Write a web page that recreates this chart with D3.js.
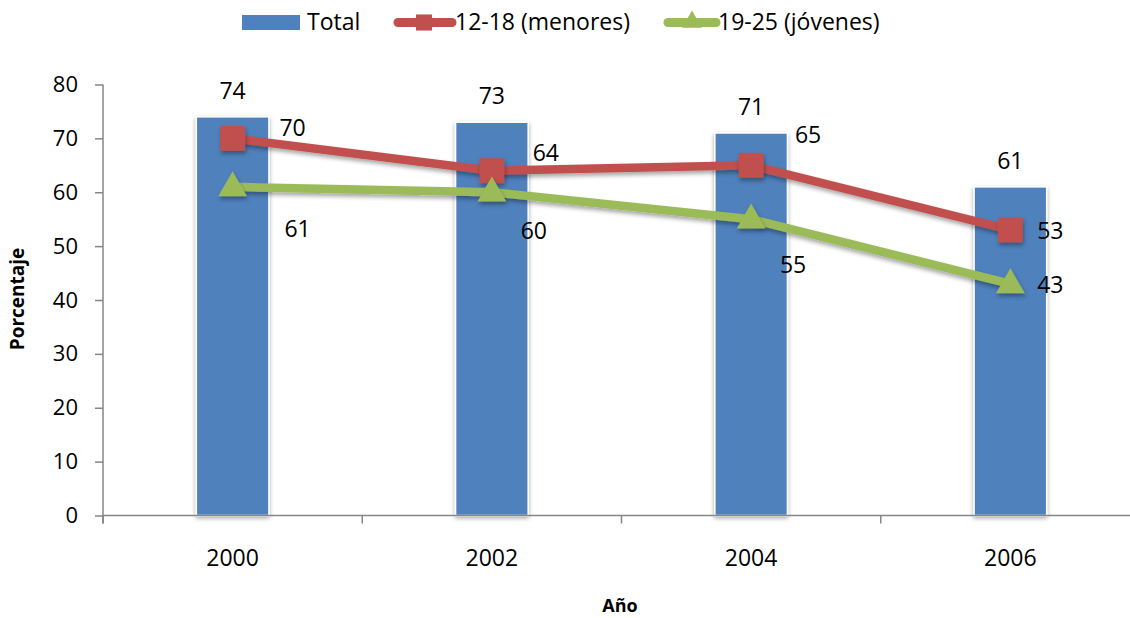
<!DOCTYPE html>
<html>
<head>
<meta charset="utf-8">
<script src="https://cdn.jsdelivr.net/npm/d3@7/dist/d3.min.js"></script>
<style>
  html, body { margin: 0; padding: 0; background: #fff; }
  svg { display: block; font-family: "Open Sans", sans-serif; }
</style>
</head>
<body>
<svg id="chart" width="1130" height="618"></svg>
<script>
// Data
const years = ["2000", "2002", "2004", "2006"];
const total = [74, 73, 71, 61];
const menores = [70, 64, 65, 53];
const jovenes = [61, 60, 55, 43];
const yTicks = [0, 10, 20, 30, 40, 50, 60, 70, 80];
const seriesNames = ["Total", "12-18 (menores)", "19-25 (jóvenes)"];

// Label placement relative to each marker (dx, dy)
const menoresLabelOffsets = [[60, -11], [54, -18], [57, -31], [40, 1]];
const jovenesLabelOffsets = [[65, 42], [42, 38], [42, 45], [40, 1]];

const colors = { bar: "#4F81BD", red: "#C0504D", green: "#9BBB59", axis: "#868686" };

const svg = d3.select("#chart");

const defs = svg.append("defs");
const sh = defs.append("filter").attr("id", "shadow")
  .attr("x", "-30%").attr("y", "-30%").attr("width", "160%").attr("height", "160%");
sh.append("feDropShadow").attr("dx", 0).attr("dy", 2).attr("stdDeviation", 2)
  .attr("flood-color", "#000").attr("flood-opacity", 0.35);
const msh = defs.append("filter").attr("id", "mshadow")
  .attr("x", "-50%").attr("y", "-50%").attr("width", "200%").attr("height", "200%");
msh.append("feDropShadow").attr("dx", 1).attr("dy", 3).attr("stdDeviation", 2)
  .attr("flood-color", "#000").attr("flood-opacity", 0.35);

const left = 103, right = 1140, y0 = 515.5, yTop = 84.5;

const x = d3.scaleBand().domain(years).range([left, right])
  .paddingInner(0.72).paddingOuter(0.36);
const y = d3.scaleLinear().domain([0, 80]).range([y0, yTop]);
const cx = d => x(d) + x.bandwidth() / 2;

// Y axis
const yAxis = d3.axisLeft(y).tickValues(yTicks).tickSizeInner(8).tickSizeOuter(0).tickPadding(17);
const gy = svg.append("g").attr("transform", `translate(${left},0)`).call(yAxis);
gy.select(".domain").remove();
gy.selectAll(".tick line").attr("stroke", colors.axis).attr("stroke-width", 1.5);
gy.selectAll(".tick text").attr("fill", "#000").style("font-size", "22px")
  .style("font-family", "'Open Sans', sans-serif");
svg.append("line").attr("x1", left).attr("x2", left).attr("y1", yTop).attr("y2", y0 + 8)
  .attr("stroke", colors.axis).attr("stroke-width", 1.5);

// Bars
svg.append("g").selectAll("rect").data(years).join("rect")
  .attr("x", d => x(d))
  .attr("y", (d, i) => y(total[i]))
  .attr("width", x.bandwidth())
  .attr("height", (d, i) => y0 - y(total[i]))
  .attr("fill", colors.bar)
  .attr("stroke", "#fff").attr("stroke-width", 1.5)
  .attr("filter", "url(#shadow)");

// X axis line and category boundary ticks
svg.append("line").attr("x1", left).attr("x2", right).attr("y1", y0).attr("y2", y0)
  .attr("stroke", colors.axis).attr("stroke-width", 1.5);
const boundaries = d3.range(years.length + 1).map(i => left + i * x.step());
svg.append("g").selectAll("line").data(boundaries).join("line")
  .attr("x1", d => d).attr("x2", d => d).attr("y1", y0).attr("y2", y0 + 8)
  .attr("stroke", colors.axis).attr("stroke-width", 1.5);
svg.append("g").selectAll("text").data(years).join("text")
  .attr("x", d => cx(d)).attr("y", 566)
  .attr("text-anchor", "middle").style("font-size", "23px")
  .text(d => d);

// Bar value labels
svg.append("g").selectAll("text").data(years).join("text")
  .attr("x", d => cx(d)).attr("y", (d, i) => y(total[i]) - 18)
  .attr("text-anchor", "middle").style("font-size", "23px")
  .text((d, i) => total[i]);

// Lines, markers and their value labels
const line = d3.line().x(d => cx(d[0])).y(d => y(d[1]));
function drawSeries(values, color, kind, offsets) {
  const pts = years.map((yr, i) => [yr, values[i]]);
  svg.append("path").datum(pts).attr("d", line)
    .attr("fill", "none").attr("stroke", color).attr("stroke-width", 8.5)
    .attr("stroke-linejoin", "round").attr("stroke-linecap", "round")
    .attr("filter", "url(#mshadow)");
  const sym = d3.symbol().type(kind === "square" ? d3.symbolSquare : d3.symbolTriangle)
    .size(kind === "square" ? 620 : 360);
  svg.append("g").selectAll("path").data(pts).join("path")
    .attr("d", sym)
    .attr("transform", d => `translate(${cx(d[0])},${y(d[1]) + (kind === "square" ? 0 : 1)})`)
    .attr("fill", color).attr("filter", "url(#mshadow)");
  svg.append("g").selectAll("text").data(pts).join("text")
    .attr("x", (d, i) => cx(d[0]) + offsets[i][0])
    .attr("y", (d, i) => y(d[1]) + offsets[i][1] + 8.5)
    .attr("text-anchor", "middle").style("font-size", "23px")
    .text(d => d[1]);
}
drawSeries(menores, colors.red, "square", menoresLabelOffsets);
drawSeries(jovenes, colors.green, "triangle", jovenesLabelOffsets);

// Axis titles
svg.append("text").attr("transform", "translate(24,299) rotate(-90)")
  .attr("text-anchor", "middle").style("font-size", "19px").style("font-weight", "bold")
  .text("Porcentaje");
svg.append("text").attr("x", 620).attr("y", 612)
  .attr("text-anchor", "middle").style("font-size", "18px").style("font-weight", "bold")
  .text("Año");

// Legend
const lg = svg.append("g").style("font-size", "23px");
lg.append("rect").attr("x", 242).attr("y", 15).attr("width", 58).attr("height", 15)
  .attr("fill", colors.bar);
lg.append("text").attr("x", 307).attr("y", 30).text(seriesNames[0]);
lg.append("line").attr("x1", 398).attr("x2", 452).attr("y1", 22.5).attr("y2", 22.5)
  .attr("stroke", colors.red).attr("stroke-width", 9).attr("stroke-linecap", "round");
lg.append("path").attr("d", d3.symbol().type(d3.symbolSquare).size(260))
  .attr("transform", "translate(424,22.5)").attr("fill", colors.red);
lg.append("text").attr("x", 455).attr("y", 30).text(seriesNames[1]);
lg.append("line").attr("x1", 668).attr("x2", 716).attr("y1", 22.5).attr("y2", 22.5)
  .attr("stroke", colors.green).attr("stroke-width", 9).attr("stroke-linecap", "round");
lg.append("path").attr("d", d3.symbol().type(d3.symbolTriangle).size(170))
  .attr("transform", "translate(692,22)").attr("fill", colors.green);
lg.append("text").attr("x", 718).attr("y", 30).text(seriesNames[2]);
</script>
</body>
</html>
